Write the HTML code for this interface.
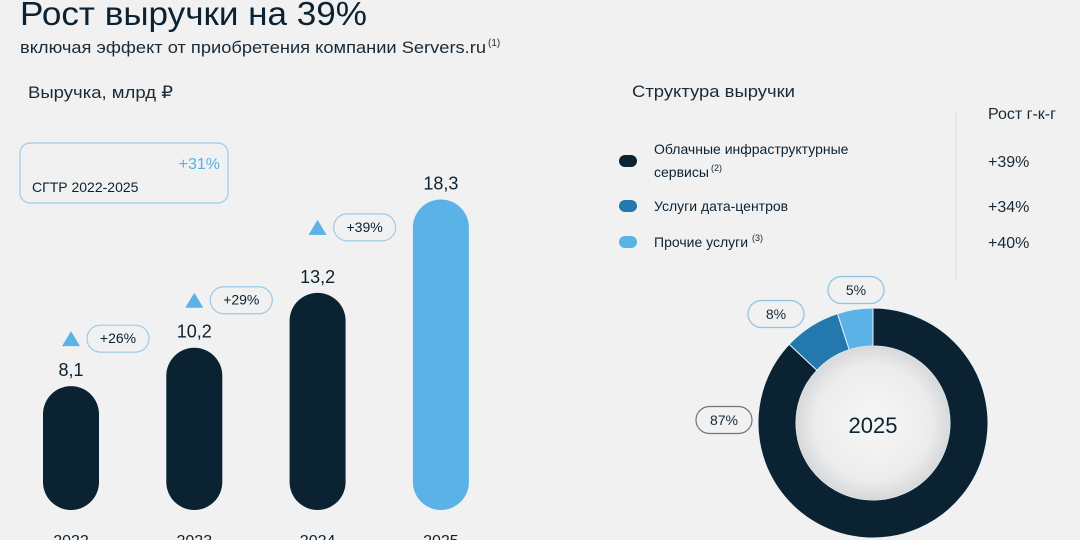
<!DOCTYPE html>
<html><head><meta charset="utf-8"><style>
html,body{margin:0;padding:0;background:#f1f1f1;}
svg{display:block;font-family:"Liberation Sans","DejaVu Sans",sans-serif;}
</style></head><body>
<svg id="c" width="1080" height="540" viewBox="0 0 1080 540">
<defs>
<radialGradient id="hole" cx="50%" cy="50%" r="50%">
<stop offset="0%" stop-color="#f7f7f7"/><stop offset="75%" stop-color="#ececec"/><stop offset="100%" stop-color="#d6d8da"/>
</radialGradient>
</defs>
<rect width="1080" height="540" fill="#f1f1f1"/>
<text x="20" y="25" font-size="33" fill="#0b2232" textLength="347" lengthAdjust="spacingAndGlyphs">Рост выручки на 39%</text>
<text x="20" y="53" font-size="17" fill="#1a2a36" textLength="466" lengthAdjust="spacingAndGlyphs">включая эффект от приобретения компании Servers.ru</text>
<text x="488" y="46" font-size="10" fill="#1a2a36">(1)</text>
<text x="28" y="98" font-size="17" fill="#1a2a36" textLength="145" lengthAdjust="spacingAndGlyphs">Выручка, млрд ₽</text>

<g>
<rect x="20" y="143" width="208" height="60" rx="10" fill="none" stroke="#9ccbe8" stroke-width="1.2"/>
<text x="220" y="169" font-size="16" fill="#5ab0e5" text-anchor="end">+31%</text>
<text x="32" y="192" font-size="14" fill="#0b2232">СГТР 2022-2025</text>
</g>
<g id="bars"></g>

<text x="632" y="97" font-size="17" fill="#1a2a36" textLength="163" lengthAdjust="spacingAndGlyphs">Структура выручки</text>
<text x="988" y="119" font-size="16" fill="#1a2a36">Рост г-к-г</text>
<line x1="956" y1="112" x2="956" y2="280" stroke="#dcdcdc" stroke-width="1"/>
<g id="legend"></g>
<g id="donut"></g>
</svg>
<script>
const years = ["2022","2023","2024","2025"];
const revenue = [8.1, 10.2, 13.2, 18.3];
const revenueLabels = ["8,1","10,2","13,2","18,3"];
const growth = [null, "+26%", "+29%", "+39%"];
const segNames = ["Облачные инфраструктурные|сервисы", "Услуги дата-центров", "Прочие услуги"];
const segNotes = ["(2)", "", "(3)"];
const segShares = [87, 8, 5];
const segGrowth = ["+39%", "+34%", "+40%"];

const NS = "http://www.w3.org/2000/svg";
function mk(tag, attrs, parent){const e=document.createElementNS(NS,tag);for(const k in attrs)e.setAttribute(k,attrs[k]);parent.appendChild(e);return e;}

// bars
const baseY = 510, barW = 56;
const xPos = i => 71 + i*123.3;
const yScale = v => 18.3*v - 24.4;
const bars = document.getElementById("bars");
revenue.forEach((v,i)=>{
  const h = yScale(v), cx = xPos(i), top = baseY - h;
  const r = mk("rect",{x:cx-barW/2,y:top,width:barW,height:h,rx:barW/2,fill:i===3?"#5ab2e6":"#0b2232"},bars);
  
  
  const t = mk("text",{x:cx,y:top-10,"font-size":18,fill:"#0b2232","text-anchor":"middle"},bars);
  t.textContent = revenueLabels[i];
  
  
  const y = mk("text",{x:cx,y:546,"font-size":16,fill:"#0b2232","text-anchor":"middle"},bars);
  y.textContent = years[i];
  
  
});
// growth badges between bars
for(let i=1;i<revenue.length;i++){
  const prev = i-1, cx = xPos(prev), top = baseY - yScale(revenue[prev]);
  const by = top - (i===3 ? 66 : 48);
  const g = mk("g",{},bars);
  
  
  mk("polygon",{points:`${cx-9},${by+8} ${cx+9},${by+8} ${cx},${by-7}`,fill:"#5ab2e6"},g);
  mk("rect",{x:cx+16,y:by-13,width:62,height:27,rx:13.5,fill:"none",stroke:"#9ccbe8","stroke-width":1.2},g);
  const t = mk("text",{x:cx+47,y:by+5,"font-size":14,fill:"#0b2232","text-anchor":"middle"},g);
  t.textContent = growth[i];
}

// legend
const colors = ["#0b2232","#2378ad","#5ab2e6"];
const legend = document.getElementById("legend");
const rowY = [161, 206, 242];
segNames.forEach((n,i)=>{
  const g = mk("g",{},legend);
  
  
  mk("rect",{x:619,y:rowY[i]-6,width:18,height:12,rx:6,fill:colors[i]},g);
  const parts = n.split("|");
  if(parts.length===2){
    const t1 = mk("text",{x:654,y:rowY[i]-7,"font-size":14,fill:"#0b2232"},g); t1.textContent=parts[0];
    const t2 = mk("text",{x:654,y:rowY[i]+16,"font-size":14,fill:"#0b2232"},g); t2.textContent=parts[1];
    const s = mk("text",{x:711,y:rowY[i]+10,"font-size":9,fill:"#0b2232"},g); s.textContent=segNotes[i];
  } else {
    const t = mk("text",{x:654,y:rowY[i]+5,"font-size":14,fill:"#0b2232"},g); t.textContent=parts[0];
    if(segNotes[i]){const s = mk("text",{x:752,y:rowY[i]-1,"font-size":9,fill:"#0b2232"},g); s.textContent=segNotes[i];}
  }
  const v = mk("text",{x:988,y:rowY[i]+6,"font-size":16,fill:"#1a2a36"},g); v.textContent=segGrowth[i];
});

// donut
const donut = document.getElementById("donut");
const cx=873, cy=423, R=115, r0=77;
const total = segShares.reduce((a,b)=>a+b,0);
let a0 = 0;
const pt=(a,rad)=>[cx+rad*Math.sin(a), cy-rad*Math.cos(a)];
const labelPos = [[724,420],[776,314],[856,290]];
segShares.forEach((s,i)=>{
  const a1 = a0 + s/total*2*Math.PI;
  const large = (a1-a0)>Math.PI?1:0;
  const [x1,y1]=pt(a0,R),[x2,y2]=pt(a1,R),[x3,y3]=pt(a1,r0),[x4,y4]=pt(a0,r0);
  const p = mk("path",{d:`M${x1},${y1} A${R},${R} 0 ${large} 1 ${x2},${y2} L${x3},${y3} A${r0},${r0} 0 ${large} 0 ${x4},${y4} Z`,fill:colors[i],stroke:"#e8f2f8","stroke-width":1},donut);
  
  
  a0 = a1;
  const g = mk("g",{},donut);
  
  
  const [lx,ly]=labelPos[i];
  mk("rect",{x:lx-28,y:ly-13.5,width:56,height:27,rx:13.5,fill:"#f1f1f1",stroke:i===0?"#6a7680":"#8fc2e0","stroke-width":1.2},g);
  const t = mk("text",{x:lx,y:ly+5,"font-size":14,fill:"#1a2a36","text-anchor":"middle"},g); t.textContent=s+"%";
});
const hole = mk("circle",{cx:cx,cy:cy,r:r0,fill:"url(#hole)"},donut);


const ct = mk("text",{x:cx,y:cy+10,"font-size":22,fill:"#0b2232","text-anchor":"middle"},donut);
ct.textContent = years[3];


</script>
</body></html>
